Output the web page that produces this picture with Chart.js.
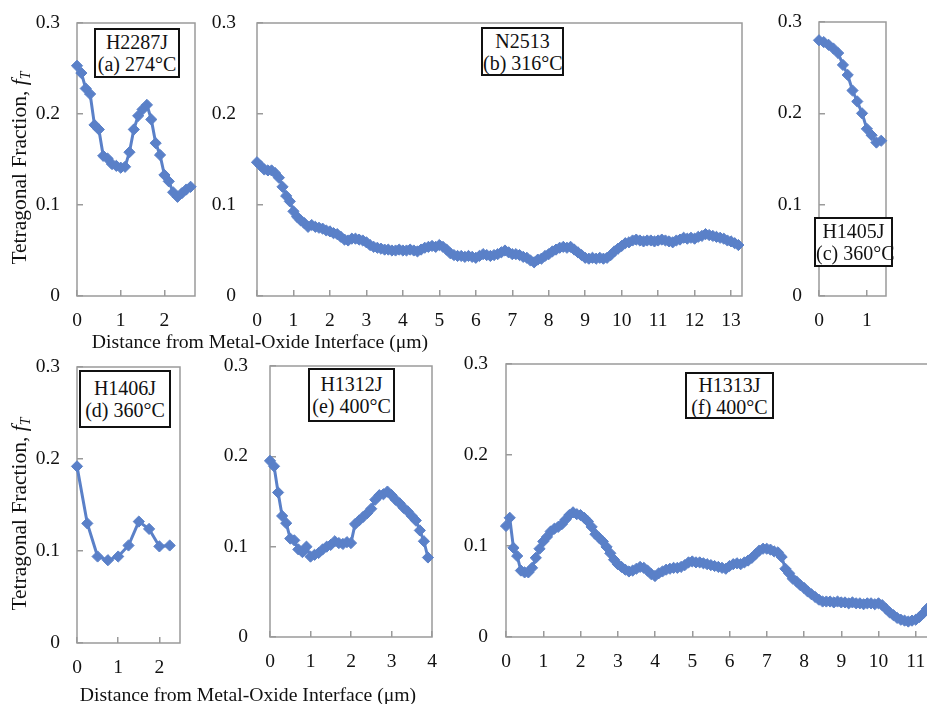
<!DOCTYPE html>
<html><head><meta charset="utf-8">
<script src="https://cdn.jsdelivr.net/npm/chart.js@4.4.0/dist/chart.umd.min.js"></script>
<style>
html,body{margin:0;padding:0;background:#fff;width:927px;height:704px;overflow:hidden;position:relative;font-family:'Liberation Serif','Times New Roman',serif;}
canvas{position:absolute;}
.lbl{position:absolute;border:2px solid #111;background:#fff;text-align:center;font-size:20px;line-height:22px;color:#111;box-sizing:border-box;white-space:nowrap;}
.xt{position:absolute;font-size:19.7px;white-space:nowrap;transform:translate(-50%,-50%);color:#111;}
.yt{position:absolute;font-size:21.5px;white-space:nowrap;transform:translate(-50%,-50%) rotate(-90deg);color:#111;}
</style></head><body>
<script>
// ---------- data ----------
const distA = [0,0.1,0.2,0.3,0.4,0.5,0.6,0.7,0.8,0.9,1.0,1.1,1.2,1.3,1.4,1.5,1.6,1.7,1.8,1.9,2.0,2.1,2.2,2.3,2.4,2.5,2.6];
const fracA = [0.253,0.245,0.228,0.222,0.188,0.183,0.154,0.151,0.145,0.143,0.141,0.142,0.158,0.183,0.198,0.205,0.210,0.194,0.168,0.155,0.133,0.126,0.114,0.109,0.113,0.117,0.120];

const distB = [0,0.1,0.2,0.3,0.4,0.5,0.6,0.7,0.8,0.9,
 1.0,1.1,1.2,1.3,1.4,1.5,1.6,1.7,1.8,1.9,
 2.0,2.1,2.2,2.3,2.4,2.5,2.6,2.7,2.8,2.9,
 3.0,3.1,3.2,3.3,3.4,3.5,3.6,3.7,3.8,3.9,
 4.0,4.1,4.2,4.3,4.4,4.5,4.6,4.7,4.8,4.9,
 5.0,5.1,5.2,5.3,5.4,5.5,5.6,5.7,5.8,5.9,
 6.0,6.1,6.2,6.3,6.4,6.5,6.6,6.7,6.8,6.9,
 7.0,7.1,7.2,7.3,7.4,7.5,7.6,7.7,7.8,7.9,
 8.0,8.1,8.2,8.3,8.4,8.5,8.6,8.7,8.8,8.9,
 9.0,9.1,9.2,9.3,9.4,9.5,9.6,9.7,9.8,9.9,
 10.0,10.1,10.2,10.3,10.4,10.5,10.6,10.7,10.8,10.9,
 11.0,11.1,11.2,11.3,11.4,11.5,11.6,11.7,11.8,11.9,
 12.0,12.1,12.2,12.3,12.4,12.5,12.6,12.7,12.8,12.9,
 13.0,13.1,13.2];
const fracB = [0.147,0.143,0.139,0.138,0.138,0.135,0.130,0.120,0.110,0.104,
 0.093,0.087,0.083,0.080,0.076,0.078,0.076,0.075,0.074,0.072,
 0.071,0.069,0.068,0.065,0.062,0.061,0.063,0.063,0.062,0.061,
 0.059,0.056,0.054,0.053,0.052,0.051,0.051,0.050,0.050,0.051,
 0.050,0.050,0.051,0.050,0.049,0.051,0.053,0.054,0.055,0.054,
 0.056,0.054,0.051,0.047,0.045,0.044,0.044,0.043,0.044,0.043,
 0.042,0.044,0.046,0.045,0.044,0.045,0.046,0.048,0.050,0.048,
 0.046,0.046,0.045,0.043,0.042,0.039,0.037,0.040,0.041,0.044,
 0.046,0.049,0.051,0.053,0.054,0.053,0.054,0.051,0.048,0.045,
 0.042,0.041,0.042,0.041,0.042,0.041,0.042,0.045,0.049,0.052,
 0.055,0.058,0.059,0.061,0.062,0.061,0.060,0.061,0.061,0.060,
 0.061,0.062,0.061,0.060,0.059,0.061,0.062,0.064,0.063,0.064,
 0.063,0.065,0.066,0.068,0.067,0.066,0.065,0.064,0.063,0.061,
 0.060,0.058,0.056];

const distC = [0,0.1,0.2,0.3,0.4,0.5,0.6,0.7,0.8,0.9,1.0,1.1,1.2,1.3];
const fracC = [0.280,0.278,0.275,0.271,0.266,0.253,0.242,0.225,0.213,0.200,0.183,0.176,0.168,0.170];

const distD = [0,0.25,0.5,0.75,1.0,1.25,1.5,1.75,2.0,2.25];
const fracD = [0.192,0.130,0.094,0.090,0.094,0.106,0.132,0.124,0.105,0.106];

const distE = [0,0.1,0.2,0.3,0.4,0.5,0.6,0.7,0.8,0.9,
 1.0,1.1,1.2,1.3,1.4,1.5,1.6,1.7,1.8,1.9,
 2.0,2.1,2.2,2.3,2.4,2.5,2.6,2.7,2.8,2.9,
 3.0,3.1,3.2,3.3,3.4,3.5,3.6,3.7,3.8,3.9];
const fracE = [0.195,0.189,0.160,0.134,0.126,0.109,0.107,0.097,0.094,0.100,
 0.089,0.091,0.093,0.097,0.100,0.102,0.106,0.104,0.103,0.105,
 0.104,0.125,0.129,0.133,0.137,0.142,0.152,0.157,0.158,0.161,
 0.157,0.152,0.148,0.143,0.139,0.134,0.129,0.118,0.106,0.088];

const distF = [0,0.1,0.2,0.3,0.4,0.5,0.6,0.7,0.8,0.9,
 1.0,1.1,1.2,1.3,1.4,1.5,1.6,1.7,1.8,1.9,
 2.0,2.1,2.2,2.3,2.4,2.5,2.6,2.7,2.8,2.9,
 3.0,3.1,3.2,3.3,3.4,3.5,3.6,3.7,3.8,3.9,
 4.0,4.1,4.2,4.3,4.4,4.5,4.6,4.7,4.8,4.9,
 5.0,5.1,5.2,5.3,5.4,5.5,5.6,5.7,5.8,5.9,
 6.0,6.1,6.2,6.3,6.4,6.5,6.6,6.7,6.8,6.9,
 7.0,7.1,7.2,7.3,7.4,7.5,7.6,7.7,7.8,7.9,
 8.0,8.1,8.2,8.3,8.4,8.5,8.6,8.7,8.8,8.9,
 9.0,9.1,9.2,9.3,9.4,9.5,9.6,9.7,9.8,9.9,
 10.0,10.1,10.2,10.3,10.4,10.5,10.6,10.7,10.8,10.9,
 11.0,11.1,11.2,11.3];
const fracF = [0.122,0.131,0.098,0.089,0.073,0.071,0.071,0.076,0.087,0.097,
 0.105,0.110,0.116,0.119,0.121,0.124,0.129,0.134,0.137,0.135,
 0.134,0.131,0.127,0.121,0.113,0.109,0.105,0.099,0.092,0.085,
 0.080,0.077,0.074,0.072,0.073,0.075,0.077,0.076,0.073,0.069,
 0.067,0.070,0.072,0.074,0.075,0.076,0.076,0.077,0.079,0.082,
 0.083,0.082,0.082,0.081,0.080,0.079,0.078,0.077,0.076,0.075,
 0.078,0.080,0.081,0.080,0.082,0.084,0.087,0.091,0.095,0.097,
 0.097,0.096,0.094,0.093,0.088,0.075,0.070,0.064,0.061,0.057,
 0.054,0.050,0.047,0.044,0.041,0.039,0.039,0.039,0.038,0.039,
 0.038,0.038,0.037,0.038,0.037,0.037,0.036,0.037,0.037,0.036,
 0.037,0.035,0.031,0.027,0.024,0.021,0.019,0.018,0.017,0.018,
 0.019,0.022,0.026,0.031];

// tick labels
const yTicks = [0, 0.1, 0.2, 0.3];
const xTicksA = [0, 1, 2];
const xTicksB = [0, 1, 2, 3, 4, 5, 6, 7, 8, 9, 10, 11, 12, 13];
const xTicksC = [0, 1];
const xTicksD = [0, 1, 2];
const xTicksE = [0, 1, 2, 3, 4];
const xTicksF = [0, 1, 2, 3, 4, 5, 6, 7, 8, 9, 10, 11, 12];

const panelNames = ['H2287J','N2513','H1405J','H1406J','H1312J','H1313J'];
const panelConds = ['(a) 274°C','(b) 316°C','(c) 360°C','(d) 360°C','(e) 400°C','(f) 400°C'];
const xTitle = 'Distance from Metal-Oxide Interface (μm)';
const yTitleHTML = 'Tetragonal Fraction, <i>f</i><sub style="font-size:14px;vertical-align:-4px"><i>T</i></sub>';

// ---------- layout (pixel boxes) ----------
const panels = [
  {x: distA, y: fracA, xt: xTicksA, left: 77,  top: 23,  right: 195, bottom: 296, xMax: 2.7,  gap: 17},
  {x: distB, y: fracB, xt: xTicksB, left: 257, top: 23,  right: 742, bottom: 296, xMax: 13.3, gap: 21},
  {x: distC, y: fracC, xt: xTicksC, left: 819, top: 22,  right: 886, bottom: 296, xMax: 1.4,  gap: 17},
  {x: distD, y: fracD, xt: xTicksD, left: 77,  top: 367, right: 180, bottom: 643, xMax: 2.5,  gap: 17},
  {x: distE, y: fracE, xt: xTicksE, left: 270, top: 366, right: 432, bottom: 637, xMax: 4.0,  gap: 22},
  {x: distF, y: fracF, xt: xTicksF, left: 506, top: 364, right: 953, bottom: 637, xMax: 12.0, gap: 18}
];
const boxes = [
  {l: 94,  t: 28,  w: 86, h: 50},
  {l: 481, t: 27,  w: 83, h: 49},
  {l: 814, t: 217, w: 79, h: 50},
  {l: 79,  t: 370, w: 92, h: 58},
  {l: 308, t: 368, w: 87, h: 54},
  {l: 685, t: 372, w: 89, h: 47}
];

const LINE = '#5a80c8';
const AXIS = '#9a9a9a';
const FONT = "'Liberation Serif', 'Times New Roman', serif";
const YW = 62, XH = 44, PT = 60, PR = 50;

const frame = {
  id: 'frame',
  beforeDatasetsDraw(chart) {
    const a = chart.chartArea, c = chart.ctx;
    c.save();
    c.strokeStyle = AXIS; c.lineWidth = 1.5;
    c.strokeRect(a.left, a.top, a.right - a.left, a.bottom - a.top);
    c.restore();
  }
};

panels.forEach((p, i) => {
  const cv = document.createElement('canvas');
  const W = (p.right - p.left) + YW + PR;
  const H = (p.bottom - p.top) + PT + XH;
  cv.width = W; cv.height = H;
  cv.style.left = (p.left - YW) + 'px';
  cv.style.top = (p.top - PT) + 'px';
  cv.style.width = W + 'px'; cv.style.height = H + 'px';
  document.body.appendChild(cv);
  new Chart(cv, {
    type: 'line',
    data: { datasets: [{
      data: p.x.map((d, k) => ({x: d, y: p.y[k]})),
      borderColor: LINE, backgroundColor: LINE,
      borderWidth: 3, pointStyle: 'rectRot', pointRadius: 5.6, pointBorderWidth: 1,
      pointBackgroundColor: LINE, pointBorderColor: LINE,
      tension: 0, clip: false
    }]},
    plugins: [frame],
    options: {
      responsive: false, animation: false, devicePixelRatio: 1,
      layout: { padding: {top: PT, right: PR, left: 0, bottom: 0}, autoPadding: false },
      plugins: { legend: {display: false}, tooltip: {enabled: false} },
      scales: {
        x: {
          type: 'linear', min: 0, max: p.xMax,
          afterFit: s => { s.height = XH; },
          afterBuildTicks: s => { s.ticks = p.xt.map(v => ({value: v})); },
          border: {display: false},
          grid: {drawOnChartArea: false, tickLength: -6, color: AXIS, lineWidth: 1.5},
          ticks: {padding: 19, maxRotation: 0, autoSkip: false, color: '#111',
                  font: {family: FONT, size: 19.5}}
        },
        y: {
          type: 'linear', min: yTicks[0], max: yTicks[yTicks.length - 1],
          afterFit: s => { s.width = YW; },
          afterBuildTicks: s => { s.ticks = yTicks.map(v => ({value: v})); },
          border: {display: false},
          grid: {drawOnChartArea: false, tickLength: -6, color: AXIS, lineWidth: 1.5},
          ticks: {padding: p.gap + 6, color: '#111',
                  font: {family: FONT, size: 19.5},
                  callback: v => (Math.abs(v) < 1e-9 ? '0' : v.toFixed(1))}
        }
      }
    }
  });
});

boxes.forEach((b, i) => {
  const d = document.createElement('div');
  d.className = 'lbl';
  d.style.left = b.l + 'px'; d.style.top = b.t + 'px';
  d.style.width = b.w + 'px'; d.style.height = b.h + 'px';
  d.style.paddingTop = Math.max(0, (b.h - 48) / 2) + 'px';
  d.innerHTML = panelNames[i] + '<br>' + panelConds[i];
  document.body.appendChild(d);
});

const titles = [
  {cls: 'xt', x: 260, y: 341, html: xTitle},
  {cls: 'xt', x: 248, y: 694, html: xTitle},
  {cls: 'yt', x: 20, y: 168, html: yTitleHTML},
  {cls: 'yt', x: 20, y: 514, html: yTitleHTML}
];
titles.forEach(t => {
  const d = document.createElement('div');
  d.className = t.cls;
  d.style.left = t.x + 'px'; d.style.top = t.y + 'px';
  d.innerHTML = t.html;
  document.body.appendChild(d);
});
</script>
</body></html>
